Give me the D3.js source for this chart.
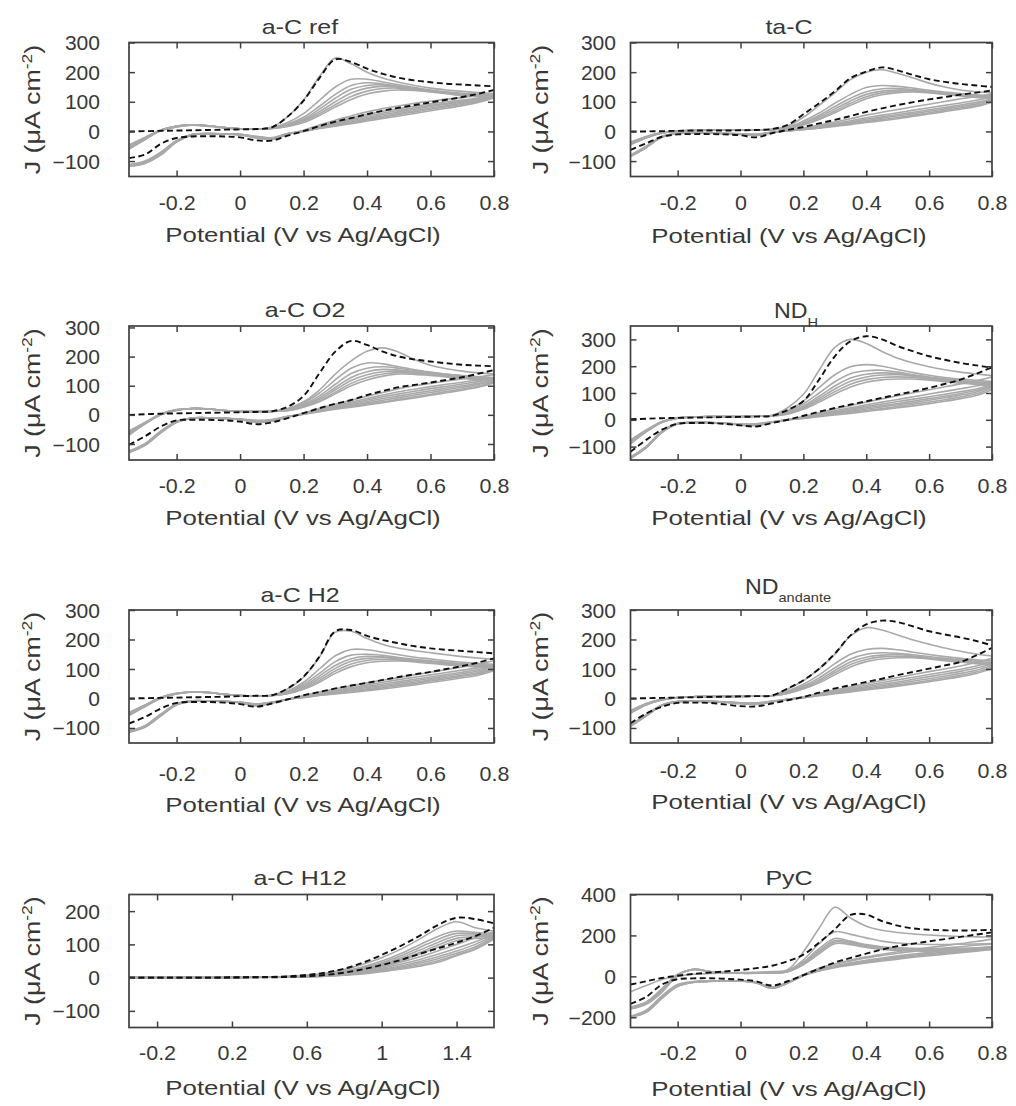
<!DOCTYPE html>
<html><head><meta charset="utf-8">
<script src="https://cdn.jsdelivr.net/npm/d3@7"></script>
<style>
body{margin:0;background:#fff;}
svg{display:block;font-family:"Liberation Sans",Arial,Helvetica,sans-serif;}
</style></head><body>
<svg id="chart" width="1016" height="1106"></svg>
<script>
// ---------------- DATA ----------------
const potentialGrid = [-0.35,-0.3,-0.25,-0.2,-0.15,-0.1,-0.05,0,0.05,0.1,0.15,0.2,0.25,0.3,0.35,0.4,0.45,0.5,0.55,0.6,0.65,0.7,0.75,0.8];
const potentialGridH12 = [-0.35,-0.3,-0.2,-0.1,0,0.1,0.2,0.3,0.4,0.5,0.6,0.7,0.8,0.9,1.0,1.1,1.2,1.3,1.4,1.5,1.6];
const xTickValues = [-0.2,0,0.2,0.4,0.6,0.8];
const xTickLabels = ['-0.2','0','0.2','0.4','0.6','0.8'];
const xTickValuesH12 = [-0.2,0.2,0.6,1,1.4];
const xTickLabelsH12 = ['-0.2','0.2','0.6','1','1.4'];
const yTicks300 = [-100,0,100,200,300];
const yTicksH12 = [-100,0,100,200];
const yTicksPyC = [-200,0,200,400];
const titles = ['a-C ref','ta-C','a-C O2','ND','a-C H2','ND','a-C H12','PyC'];
const titleSubs = ['','','','H','','andante','',''];
const xLabelText = 'Potential (V vs Ag/AgCl)';
const yLabelMain = 'J (\u03BCA cm';
const yLabelSup = '-2';
const yLabelEnd = ')';
const yDomains = [[-152,300],[-152,300],[-155,305],[-150,350],[-151,300],[-151,300],[-150,250],[-250,400]];
const xDomainStd = [-0.35,0.8];
const xDomainH12 = [-0.35,1.6];

// a-C ref
const acRefDashFwd = [0,1,2,3,4,5,6,7,8,14,50,104,180,243,234,212,194,181,172,166,161,158,155,152];
const acRefDashRev = [-90,-78,-42,-22,-17,-16,-17,-20,-30,-31,-14,1,18,33,45,58,70,80,89,98,107,116,127,140];
const acRefGrayFwd = [
 [-60,-28,2,15,21,17,12,9,8,14,50,106,185,248,228,200,180,166,155,146,140,135,131,128],
 [-58,-27,3,16,22,19,13,9,8,12,30,60,105,150,176,176,167,157,148,140,134,129,125,122],
 [-55,-25,3,16,22,19,13,9,8,11,25,48,85,125,155,164,160,152,144,137,131,126,122,119],
 [-53,-24,4,17,22,19,13,9,8,11,22,42,75,112,142,155,157,151,143,136,130,125,121,117],
 [-50,-22,4,17,22,19,13,9,8,10,20,38,67,100,130,146,152,149,143,136,130,124,120,116],
 [-48,-21,5,18,22,19,13,9,8,10,18,34,60,90,118,136,145,146,141,135,129,123,119,115],
 [-45,-20,5,18,22,19,13,9,8,10,17,30,54,82,108,126,136,140,138,133,127,121,117,113]];
const acRefGrayRev = [
 [-118,-108,-80,-36,-12,-8,-9,-12,-22,-27,-10,4,22,38,52,66,77,86,95,102,109,114,121,128],
 [-117,-107,-78,-35,-12,-8,-9,-11,-21,-26,-10,3,18,32,45,58,68,77,85,93,100,106,113,122],
 [-116,-106,-77,-34,-11,-8,-9,-11,-20,-25,-9,2,15,28,40,52,62,71,80,88,95,102,110,119],
 [-115,-105,-75,-33,-11,-7,-8,-10,-19,-24,-8,2,13,25,36,47,57,66,75,84,92,99,107,117],
 [-114,-103,-73,-32,-10,-7,-8,-10,-18,-23,-8,1,12,22,32,43,52,61,70,79,87,95,104,116],
 [-113,-102,-72,-31,-10,-7,-8,-10,-17,-22,-7,1,11,20,29,39,48,57,66,75,83,91,101,115],
 [-112,-100,-70,-30,-10,-7,-8,-10,-16,-21,-7,0,10,18,26,35,44,52,61,70,78,87,98,113]];

// ta-C
const taCDashFwd = [0,0,1,2,3,3,3,4,5,8,22,58,95,135,180,202,216,206,190,176,167,160,155,150];
const taCDashRev = [-62,-40,-18,-10,-9,-9,-10,-13,-20,-6,5,15,27,39,52,66,78,89,99,108,116,124,131,138];
const taCGrayFwd = [
 [-45,-22,-6,0,3,4,4,4,5,7,18,48,88,130,175,200,208,196,180,163,150,140,134,130],
 [-44,-21,-5,1,3,4,4,4,5,6,14,35,62,95,125,148,155,152,146,139,133,128,124,121],
 [-42,-20,-5,1,3,4,4,4,5,6,12,30,54,84,112,134,144,145,141,135,129,124,120,117],
 [-40,-19,-5,1,3,4,4,4,5,6,11,27,49,76,103,125,136,140,138,133,127,122,118,114],
 [-38,-18,-4,2,3,4,4,4,5,6,10,24,44,69,95,117,130,136,136,132,126,121,116,112],
 [-36,-17,-4,2,3,4,4,4,5,6,9,22,40,63,88,110,124,131,133,130,125,120,115,110]];
const taCGrayRev = [
 [-85,-55,-20,-7,-5,-5,-7,-10,-14,-4,4,12,22,32,43,55,65,74,83,92,101,110,118,126],
 [-84,-54,-19,-7,-5,-5,-7,-9,-12,-4,3,10,18,27,36,46,55,63,72,80,88,96,105,116],
 [-83,-53,-18,-7,-5,-5,-7,-9,-11,-3,3,9,16,24,32,41,49,57,65,73,81,89,98,110],
 [-82,-52,-18,-6,-5,-5,-7,-8,-10,-3,2,8,14,21,29,37,45,52,60,68,76,84,93,106],
 [-81,-51,-17,-6,-5,-5,-7,-8,-10,-3,2,7,12,19,26,33,40,47,55,63,71,79,88,102],
 [-80,-50,-17,-6,-5,-5,-7,-8,-9,-3,2,6,11,17,23,30,36,43,51,59,67,75,84,99]];

// a-C O2
const acO2DashFwd = [0,2,4,5,6,7,8,9,10,12,28,65,143,217,254,240,217,200,190,183,177,172,169,167];
const acO2DashRev = [-103,-74,-40,-19,-17,-17,-19,-23,-32,-26,-11,6,23,38,51,68,82,95,103,111,120,129,141,154];
const acO2GrayFwd = [
 [-70,-32,0,15,22,20,15,12,11,12,22,45,85,140,185,218,230,215,190,170,158,150,144,140],
 [-68,-31,0,16,22,20,15,12,11,12,20,40,75,120,160,178,175,165,155,147,140,135,131,128],
 [-65,-30,1,16,22,20,15,12,11,12,18,35,65,105,142,160,165,160,152,145,139,134,130,126],
 [-62,-29,1,17,22,20,15,12,11,12,17,32,58,94,128,148,156,154,148,141,135,130,126,122],
 [-60,-28,2,17,22,20,15,12,11,12,16,30,53,86,118,138,148,150,146,140,134,129,124,120],
 [-58,-27,2,17,22,20,15,12,11,12,15,28,48,78,108,128,140,145,143,138,132,127,122,118],
 [-55,-26,3,18,22,20,15,12,11,12,14,26,45,72,100,120,133,140,139,135,130,125,120,115]];
const acO2GrayRev = [
 [-130,-105,-62,-26,-12,-10,-12,-16,-26,-22,-8,6,22,37,50,64,77,90,100,108,116,123,130,138],
 [-129,-104,-61,-25,-12,-10,-12,-15,-24,-21,-8,5,19,32,44,56,68,79,88,97,105,112,120,128],
 [-128,-103,-60,-25,-11,-10,-12,-15,-23,-20,-7,4,17,29,40,51,62,72,81,90,98,106,114,124],
 [-127,-102,-59,-24,-11,-10,-12,-15,-22,-19,-7,3,15,26,36,46,56,65,74,83,92,100,108,120],
 [-126,-101,-58,-24,-11,-10,-12,-15,-21,-18,-6,3,14,23,32,41,50,59,68,77,86,95,104,117],
 [-125,-100,-57,-23,-11,-10,-12,-14,-20,-17,-6,2,12,21,29,37,45,53,62,71,80,89,99,114],
 [-124,-99,-56,-23,-10,-10,-12,-14,-19,-16,-5,2,11,19,26,34,42,50,58,67,76,85,95,110]];

// ND_H
const ndHDashFwd = [2,4,6,7,8,9,10,11,12,15,37,70,150,237,293,312,300,275,255,237,224,212,203,194];
const ndHDashRev = [-119,-75,-37,-15,-12,-12,-15,-21,-25,-12,0,15,30,44,57,69,82,94,106,119,134,150,172,196];
const ndHGrayFwd = [
 [-90,-45,-10,5,10,12,12,12,13,17,45,95,185,270,300,285,255,230,212,198,187,178,171,165],
 [-88,-44,-9,6,10,12,12,12,13,16,35,70,120,168,198,206,200,188,176,166,158,152,147,143],
 [-85,-42,-8,6,10,12,12,12,13,15,30,60,100,142,172,183,185,178,168,160,153,147,142,138],
 [-82,-41,-8,7,10,12,12,12,13,15,27,52,88,126,156,170,175,173,166,158,151,145,140,135],
 [-80,-40,-7,7,10,12,12,12,13,15,25,47,80,115,144,160,167,168,163,156,149,143,138,133],
 [-78,-39,-7,7,10,12,12,12,13,14,23,43,73,105,133,150,158,160,158,152,146,140,135,130],
 [-75,-38,-6,8,10,12,12,12,13,14,21,39,66,96,122,140,149,152,152,148,142,137,132,127]];
const ndHGrayRev = [
 [-145,-105,-48,-16,-10,-10,-14,-20,-22,-10,0,12,26,40,53,66,78,90,101,112,123,134,146,160],
 [-144,-104,-47,-15,-10,-10,-13,-18,-20,-9,0,10,22,34,45,56,66,76,86,96,106,116,126,138],
 [-143,-103,-46,-15,-10,-10,-13,-18,-19,-9,0,9,20,30,40,50,59,68,77,86,95,105,115,132],
 [-142,-102,-45,-15,-10,-10,-13,-17,-18,-8,0,8,18,27,36,45,53,61,70,79,88,98,109,127],
 [-141,-101,-44,-14,-10,-10,-13,-17,-17,-8,0,7,16,24,32,40,48,56,64,73,82,92,104,123],
 [-140,-100,-43,-14,-10,-10,-13,-16,-16,-8,0,6,14,21,28,35,42,50,58,66,75,85,97,118],
 [-139,-99,-42,-13,-10,-10,-12,-16,-15,-7,0,5,12,18,24,31,38,45,52,60,69,79,91,112]];

// a-C H2
const acH2DashFwd = [0,1,2,3,4,5,6,8,9,11,34,74,142,228,232,212,198,187,177,170,165,161,157,153];
const acH2DashRev = [-85,-63,-34,-15,-12,-12,-14,-19,-28,-17,-3,11,22,34,44,53,63,73,82,90,100,110,122,136];
const acH2GrayFwd = [
 [-58,-28,0,15,22,20,14,10,9,11,32,72,140,225,228,203,183,170,162,155,148,142,137,132],
 [-57,-27,1,16,22,20,14,10,9,10,25,55,100,145,166,165,157,148,140,134,128,123,119,116],
 [-55,-26,2,16,22,20,14,10,9,10,22,48,85,125,147,150,146,139,133,128,123,118,115,112],
 [-53,-25,2,17,22,20,14,10,9,10,20,42,76,112,135,143,141,136,130,125,120,116,112,109],
 [-51,-24,3,17,22,20,14,10,9,10,18,38,68,102,126,136,138,134,128,123,118,114,110,106],
 [-49,-23,3,17,22,20,14,10,9,10,17,34,61,93,117,129,132,131,126,121,116,112,108,104],
 [-47,-22,4,18,22,20,14,10,9,10,16,31,55,85,108,121,126,127,124,119,114,110,106,102]];
const acH2GrayRev = [
 [-115,-98,-60,-22,-9,-8,-10,-15,-25,-16,-3,10,22,33,43,53,62,71,80,89,98,107,117,128],
 [-114,-97,-58,-21,-9,-8,-10,-14,-23,-15,-3,8,18,28,37,46,55,64,72,80,88,96,104,114],
 [-113,-96,-57,-21,-9,-8,-10,-14,-22,-14,-3,7,16,25,33,41,49,57,65,73,81,89,98,110],
 [-112,-95,-56,-20,-9,-8,-10,-13,-21,-14,-3,6,14,22,30,37,44,52,60,68,76,84,93,106],
 [-111,-94,-55,-20,-8,-8,-10,-13,-20,-13,-3,5,12,19,26,33,40,47,55,63,71,79,88,102],
 [-110,-93,-54,-19,-8,-8,-10,-13,-19,-13,-3,4,11,17,23,29,36,43,51,59,67,75,84,98],
 [-109,-92,-53,-19,-8,-8,-10,-12,-18,-12,-3,3,10,15,20,26,32,39,46,54,62,70,79,94]];

// ND_andante
const ndAnDashFwd = [0,1,2,3,4,5,6,7,8,10,34,62,101,152,214,251,264,259,244,228,217,207,195,180];
const ndAnDashRev = [-84,-51,-28,-15,-14,-15,-20,-26,-27,-17,-6,5,20,34,45,56,67,79,90,101,112,124,146,172];
const ndAnGrayFwd = [
 [-50,-22,-5,3,6,7,7,7,8,10,32,60,100,150,212,240,232,215,198,184,171,160,151,144],
 [-49,-21,-5,3,6,7,7,7,8,9,25,48,80,118,150,166,170,165,157,149,142,136,131,127],
 [-47,-20,-4,3,6,7,7,7,8,9,22,42,70,104,134,150,155,153,148,142,136,131,126,122],
 [-45,-19,-4,3,6,7,7,7,8,9,20,38,63,95,124,140,147,148,144,138,132,127,122,118],
 [-43,-18,-3,3,6,7,7,7,8,9,18,35,58,87,115,132,141,143,141,136,130,125,120,115],
 [-41,-17,-3,3,6,7,7,7,8,9,17,32,53,80,107,125,134,138,138,134,128,123,118,113]];
const ndAnGrayRev = [
 [-95,-60,-25,-11,-9,-10,-13,-18,-20,-12,-3,6,17,29,40,51,61,71,81,91,100,110,122,136],
 [-94,-59,-24,-11,-9,-10,-13,-17,-19,-11,-3,5,15,25,35,45,54,63,72,81,90,99,110,124],
 [-93,-58,-23,-11,-9,-10,-12,-16,-18,-11,-3,4,13,22,31,40,48,56,65,74,83,92,103,118],
 [-92,-57,-23,-10,-9,-10,-12,-16,-17,-10,-3,3,12,20,28,36,43,51,59,67,76,85,96,112],
 [-91,-56,-22,-10,-9,-10,-12,-15,-16,-10,-3,3,11,18,25,32,39,46,53,61,70,79,90,107],
 [-90,-55,-22,-10,-9,-10,-12,-15,-15,-9,-3,2,9,16,22,29,35,42,49,57,65,74,85,102]];

// a-C H12 (on potentialGridH12)
const acH12DashFwd = [0,0,0,0,0,0,1,1,2,4,8,15,27,45,68,95,125,158,180,176,163];
const acH12DashRev = [0,0,0,0,0,0,0,1,1,2,4,8,15,25,38,53,71,88,105,125,150];
const acH12GrayFwd = [
 [0,0,0,0,0,0,1,1,2,3,7,13,24,40,60,85,115,148,168,150,140],
 [0,0,0,0,0,0,1,1,2,3,6,11,20,33,50,72,98,124,140,136,132],
 [0,0,0,0,0,0,1,1,2,3,6,10,18,30,45,65,90,115,133,132,129],
 [0,0,0,0,0,0,1,1,2,3,5,9,16,27,41,59,82,106,126,128,126],
 [0,0,0,0,0,0,1,1,2,3,5,8,15,25,38,54,75,98,118,123,122],
 [0,0,0,0,0,0,1,1,2,2,4,8,14,23,35,50,70,91,111,118,118]];
const acH12GrayRev = [
 [0,0,0,0,0,0,0,1,1,2,4,7,13,21,32,46,62,80,100,120,138],
 [0,0,0,0,0,0,0,1,1,2,3,6,11,18,28,40,54,70,88,108,130],
 [0,0,0,0,0,0,0,1,1,2,3,5,10,16,25,35,48,63,80,100,127],
 [0,0,0,0,0,0,0,1,1,1,3,5,9,14,22,31,43,57,73,93,124],
 [0,0,0,0,0,0,0,1,1,1,2,4,8,13,20,28,38,51,68,88,120],
 [0,0,0,0,0,0,0,0,1,1,2,4,7,11,18,25,34,46,66,85,116]];

// PyC
const pycDashFwd = [-40,-24,-8,3,12,18,24,31,40,52,74,106,165,230,300,302,270,248,234,228,225,224,225,227];
const pycDashRev = [-135,-100,-40,-14,-10,-9,-12,-16,-24,-45,-24,6,37,68,90,111,131,148,160,171,182,193,204,215];
const pycGrayFwd = [
 [-75,-45,-15,0,10,14,16,18,20,23,32,120,235,338,285,245,225,214,207,202,198,195,193,192],
 [-150,-125,-60,10,32,24,18,16,16,18,27,80,160,218,205,188,172,163,158,156,156,157,158,160],
 [-152,-128,-65,8,33,24,18,15,15,17,25,70,135,185,172,155,145,140,137,136,136,137,140,145],
 [-155,-131,-70,6,34,24,18,15,15,17,24,65,125,175,166,150,140,135,132,131,131,132,135,140],
 [-158,-134,-74,5,35,24,18,15,15,16,23,60,118,168,160,145,136,131,128,127,127,128,131,136],
 [-160,-137,-78,4,35,24,18,15,15,16,22,56,110,160,155,141,132,127,124,123,124,125,128,132]];
const pycGrayRev = [
 [-195,-165,-95,-40,-25,-22,-22,-24,-32,-52,-28,8,40,62,80,95,108,120,131,141,150,160,170,182],
 [-196,-168,-100,-45,-28,-24,-22,-22,-30,-55,-30,8,38,60,75,90,102,113,122,130,138,145,152,157],
 [-197,-170,-102,-46,-28,-24,-22,-22,-30,-56,-31,6,33,52,66,79,90,100,109,117,124,131,138,145],
 [-198,-172,-104,-47,-29,-24,-22,-22,-31,-57,-32,5,30,48,61,73,84,94,103,111,118,125,132,140],
 [-199,-174,-106,-48,-29,-25,-22,-23,-31,-58,-33,4,28,45,58,69,80,89,98,106,113,120,127,136],
 [-200,-176,-108,-49,-30,-25,-23,-23,-32,-58,-33,3,26,42,54,65,75,84,93,101,108,115,123,132]];

// ---------------- LAYOUT ----------------
const colX = [[129,494],[630.5,992]];
const rowY = [[42.5,176.5],[326,460],[610,743],[894.5,1027.5]];
const yTickGap = [29,14.5];
const yLabelX = [40,548];
const xLabelX = [303,789];
const panelLayout = [
 {col:0,row:0,tickDy:34,labelDy:65,titleX:300,titleDy:-9},
 {col:1,row:0,tickDy:34,labelDy:66,titleX:789,titleDy:-9},
 {col:0,row:1,tickDy:33,labelDy:65,titleX:305,titleDy:-9},
 {col:1,row:1,tickDy:33,labelDy:65,titleX:796,titleDy:-8},
 {col:0,row:2,tickDy:38,labelDy:68.5,titleX:300,titleDy:-8.5},
 {col:1,row:2,tickDy:35.5,labelDy:65.5,titleX:788,titleDy:-16.5},
 {col:0,row:3,tickDy:32.5,labelDy:67.5,titleX:300,titleDy:-9.5},
 {col:1,row:3,tickDy:32.5,labelDy:68.5,titleX:789,titleDy:-9.5}
];
const TEXT = '#383838', AXIS = '#404040', GRAY = '#a9a9a9', DASH = '#111111';

const series = [
 [acRefDashFwd,acRefDashRev,acRefGrayFwd,acRefGrayRev],
 [taCDashFwd,taCDashRev,taCGrayFwd,taCGrayRev],
 [acO2DashFwd,acO2DashRev,acO2GrayFwd,acO2GrayRev],
 [ndHDashFwd,ndHDashRev,ndHGrayFwd,ndHGrayRev],
 [acH2DashFwd,acH2DashRev,acH2GrayFwd,acH2GrayRev],
 [ndAnDashFwd,ndAnDashRev,ndAnGrayFwd,ndAnGrayRev],
 [acH12DashFwd,acH12DashRev,acH12GrayFwd,acH12GrayRev],
 [pycDashFwd,pycDashRev,pycGrayFwd,pycGrayRev]
];

const panels = panelLayout.map((L,i) => {
  const isH12 = i === 6;
  return Object.assign({}, L, {
    title: titles[i], sub: titleSubs[i],
    grid: isH12 ? potentialGridH12 : potentialGrid,
    xDomain: isH12 ? xDomainH12 : xDomainStd,
    xTicks: isH12 ? xTickValuesH12 : xTickValues,
    xLabels: isH12 ? xTickLabelsH12 : xTickLabels,
    yDomain: yDomains[i],
    yTicks: i === 6 ? yTicksH12 : (i === 7 ? yTicksPyC : yTicks300),
    dashFwd: series[i][0], dashRev: series[i][1], grayFwd: series[i][2], grayRev: series[i][3]
  });
});

// ---------------- DRAW ----------------
const svg = d3.select('#chart');
const defs = svg.append('defs');

panels.forEach((p, i) => {
  const [x0, x1] = colX[p.col];
  const [yT, yB] = rowY[p.row];
  const xs = d3.scaleLinear().domain(p.xDomain).range([x0, x1]);
  const ys = d3.scaleLinear().domain(p.yDomain).range([yB, yT]);
  const g = svg.append('g');

  defs.append('clipPath').attr('id', 'clip' + i).append('rect')
    .attr('x', x0).attr('y', yT).attr('width', x1 - x0).attr('height', yB - yT);
  const plot = g.append('g').attr('clip-path', `url(#clip${i})`);
  const line = d3.line().x((d, j) => xs(p.grid[j])).y(d => ys(d)).curve(d3.curveCatmullRom.alpha(0.5));

  const grayAll = [];
  p.grayFwd.forEach((a, k) => { grayAll.push(a); grayAll.push(p.grayRev[k]); });
  plot.selectAll('path.gray').data(grayAll).join('path').attr('class', 'gray')
    .attr('d', d => line(d)).attr('fill', 'none').attr('stroke', GRAY).attr('stroke-width', 1.6);
  plot.selectAll('path.dash').data([p.dashFwd, p.dashRev]).join('path').attr('class', 'dash')
    .attr('d', d => line(d)).attr('fill', 'none').attr('stroke', DASH)
    .attr('stroke-width', 1.9).attr('stroke-dasharray', '6,3.5');

  // axes (ticks inside on all four sides)
  const axB = d3.axisBottom(xs).tickValues(p.xTicks).tickSize(-6).tickFormat((d, k) => p.xLabels[k]);
  const gB = g.append('g').attr('transform', `translate(0,${yB})`).call(axB);
  const axT = d3.axisTop(xs).tickValues(p.xTicks).tickSize(-6).tickFormat('');
  const gT = g.append('g').attr('transform', `translate(0,${yT})`).call(axT);
  const axL = d3.axisLeft(ys).tickValues(p.yTicks).tickSize(-6).tickFormat(d3.format('d'));
  const gL = g.append('g').attr('transform', `translate(${x0},0)`).call(axL);
  const axR = d3.axisRight(ys).tickValues(p.yTicks).tickSize(-6).tickFormat('');
  const gR = g.append('g').attr('transform', `translate(${x1},0)`).call(axR);
  [gB, gT, gL, gR].forEach(a => {
    a.select('.domain').remove();
    a.selectAll('line').attr('stroke', AXIS).attr('stroke-width', 1.5);
  });
  gB.selectAll('text').attr('y', p.tickDy).attr('dy', null)
    .attr('font-size', 19.5).attr('fill', TEXT)
    .attr('transform', 'scale(1.1,1)');
  gL.selectAll('text').attr('x', -yTickGap[p.col] / 1.08).attr('dy', '0.36em')
    .attr('font-size', 19.5).attr('fill', TEXT)
    .attr('transform', 'scale(1.08,1)');
  [gB, gL, gT, gR].forEach(a => a.attr('font-family', null).attr('font-size', null));

  // box
  g.append('rect').attr('x', x0).attr('y', yT).attr('width', x1 - x0).attr('height', yB - yT)
    .attr('fill', 'none').attr('stroke', AXIS).attr('stroke-width', 1.7);

  // title
  const hasSub = p.sub !== '';
  const t = g.append('text').attr('text-anchor', 'middle').attr('fill', TEXT)
    .attr('font-size', hasSub ? 21.5 : 20.5)
    .attr('transform', `translate(${p.titleX},${yT + p.titleDy}) scale(${hasSub ? 1.08 : 1.22},1)`);
  t.append('tspan').text(p.title);
  if (hasSub) t.append('tspan').attr('font-size', 13.5).attr('dy', 8.5).text(p.sub);

  // x label
  g.append('text').attr('text-anchor', 'middle').attr('fill', TEXT).attr('font-size', 20.5)
    .attr('transform', `translate(${xLabelX[p.col]},${yB + p.labelDy}) scale(1.26,1)`)
    .text(xLabelText);

  // y label
  const yl = g.append('text').attr('text-anchor', 'middle').attr('fill', TEXT).attr('font-size', 21.5)
    .attr('transform', `translate(${yLabelX[p.col]},${(yT + yB) / 2}) rotate(-90) scale(1.25,1)`);
  yl.append('tspan').text(yLabelMain);
  yl.append('tspan').attr('font-size', 14).attr('dy', -8).text(yLabelSup);
  yl.append('tspan').attr('dy', 8).text(yLabelEnd);
});
</script>
</body></html>
